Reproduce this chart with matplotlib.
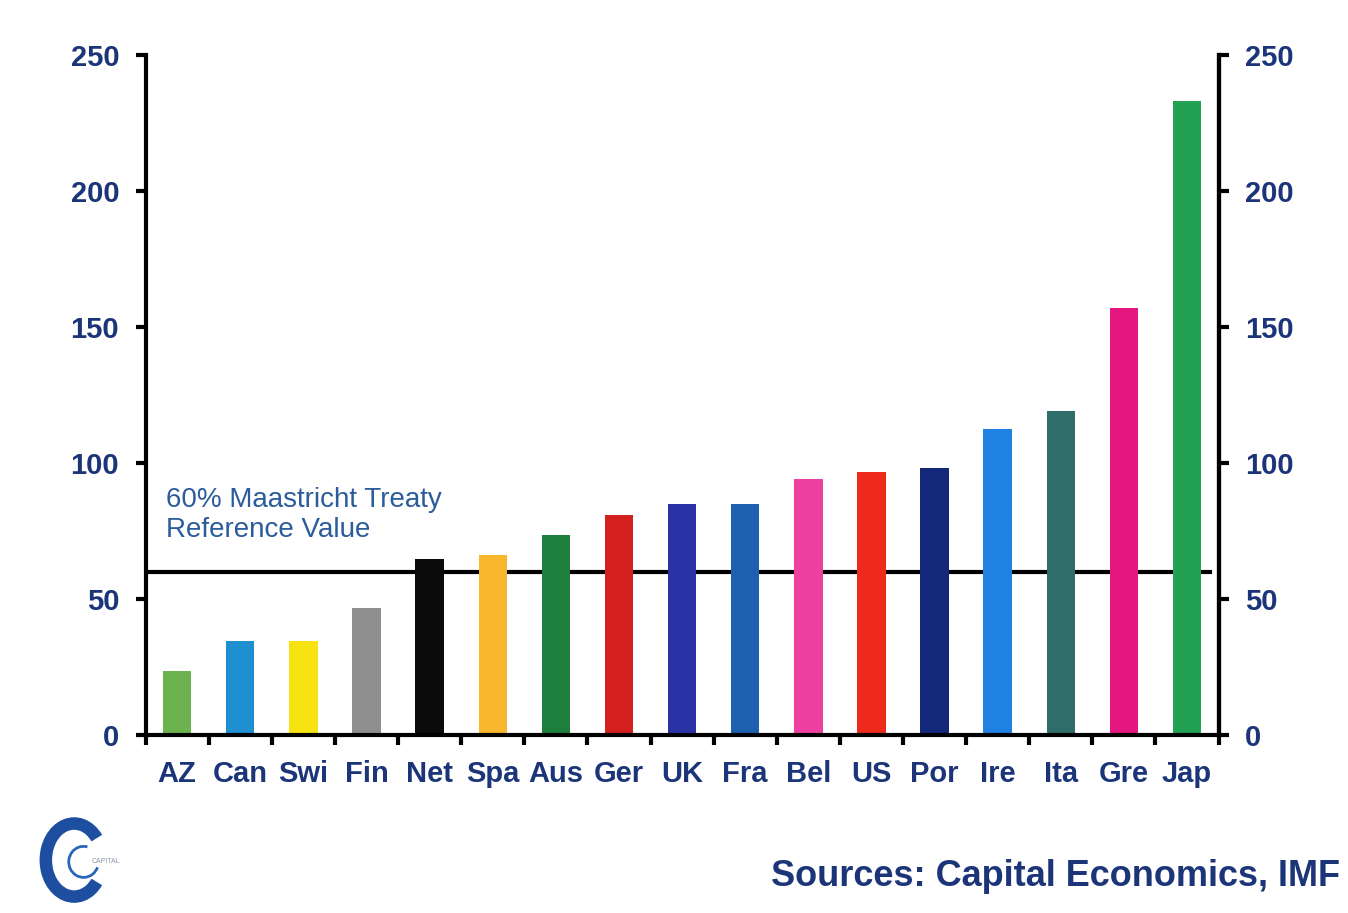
import matplotlib.pyplot as plt
from matplotlib.patches import Arc
import numpy as np

# government debt, % of GDP
countries = ['AZ', 'Can', 'Swi', 'Fin', 'Net', 'Spa', 'Aus', 'Ger', 'UK',
             'Fra', 'Bel', 'US', 'Por', 'Ire', 'Ita', 'Gre', 'Jap']
debt = [23.5, 34.5, 34.5, 46.5, 64.5, 66, 73.5, 81, 85,
        85, 94, 96.5, 98, 112.5, 119, 157, 233]
colors = ['#6cb24e', '#1f8fcf', '#f7e312', '#8e8e8e', '#0b0b0b', '#f8b62c',
          '#1e7e3e', '#d3201f', '#2a33a6', '#1d60ae', '#ee40a0', '#ee2a1c',
          '#14287a', '#1f82e2', '#2f6d68', '#e5167f', '#22a152']
ref_value = 60
ref_label = '60% Maastricht Treaty\nReference Value'
yticks = [0, 50, 100, 150, 200, 250]

plt.rcParams['font.family'] = ['Liberation Sans', 'DejaVu Sans']
navy = '#1b3578'

fig = plt.figure(figsize=(13.48, 9.13), dpi=100)
ax = fig.add_axes([0.108, 0.195, 0.796, 0.745])

x = np.arange(len(countries))
ax.axhline(ref_value, xmin=0, xmax=0.992, color='black', lw=3, zorder=1)
ax.bar(x, debt, width=0.45, color=colors, zorder=2)
ax.text(-0.18, 91, ref_label, color='#2b5c9c', fontsize=20, va='top',
        ha='left', linespacing=1.2)

ax.set_xlim(-0.5, len(countries) - 0.5)
ax.set_ylim(0, 250)
ax.set_yticks(yticks)
ax.set_xticks(x)
ax.set_xticklabels(countries)
ax.set_xticks(np.arange(-0.5, len(countries)), minor=True)
ax.tick_params(axis='x', which='major', length=0, pad=18, labelsize=21,
               labelcolor=navy)
ax.tick_params(axis='x', which='minor', length=7, width=3, direction='out')
ax.tick_params(axis='y', length=7, width=3, pad=12, labelsize=21,
               labelcolor=navy)
for lbl in ax.get_xticklabels() + ax.get_yticklabels():
    lbl.set_fontweight('bold')

for side in ['left', 'right', 'bottom']:
    ax.spines[side].set_linewidth(3)
ax.spines['top'].set_visible(False)

ax2 = ax.twinx()
ax2.set_ylim(0, 250)
ax2.set_yticks(yticks)
ax2.tick_params(axis='y', length=7, width=3, pad=12, labelsize=21,
                labelcolor=navy)
for lbl in ax2.get_yticklabels():
    lbl.set_fontweight('bold')
for side in ['top', 'left', 'bottom']:
    ax2.spines[side].set_visible(False)
ax2.spines['right'].set_linewidth(3)

fig.text(0.994, 0.04, 'Sources: Capital Economics, IMF', ha='right',
         va='center', fontsize=26, fontweight='bold', color=navy)

# logo
lax = fig.add_axes([0.02, 0.008, 0.1, 0.1])
lax.set_xlim(0, 100)
lax.set_ylim(0, 100)
lax.axis('off')
lax.add_patch(Arc((35, 50), 42, 80, theta1=55, theta2=305, lw=9,
                  color='#1d4ea0'))
lax.add_patch(Arc((42, 48), 22, 34, theta1=80, theta2=330, lw=2,
                  color='#2a66b8'))
lax.text(48, 48, 'CAPITAL', fontsize=5, color='#8a93a8', va='center')

fig.savefig('out.png', dpi=100, facecolor='white')
